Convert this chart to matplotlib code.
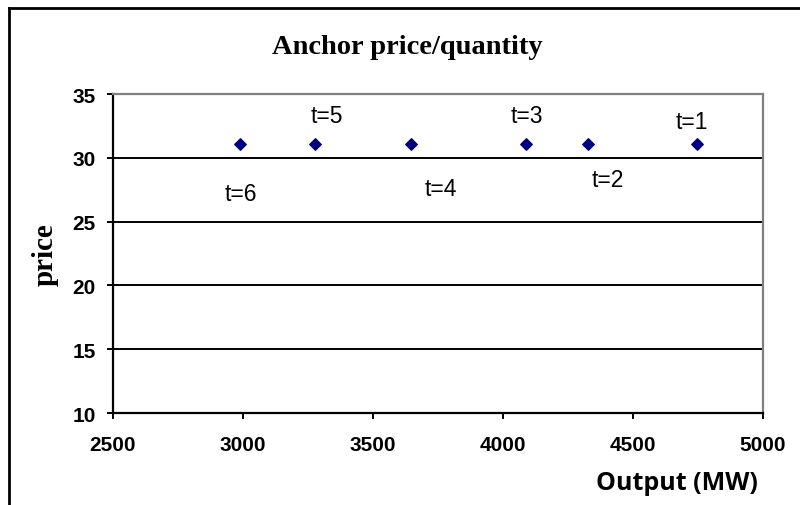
import matplotlib.pyplot as plt

# dados
saida_mw = [4745, 4325, 4090, 3645, 3275, 2990]
preco = [31.1, 31.1, 31.1, 31.1, 31.1, 31.1]
rotulos = ["t=1", "t=2", "t=3", "t=4", "t=5", "t=6"]
# deslocamento dos rotulos em pixels (dx, dy)
desloc = [(-5, 22), (20, -36), (0, 28), (30, -45), (12, 28), (0, -50)]

fig = plt.figure(figsize=(8, 5.06), dpi=100)
ax = fig.add_axes([113/800, 1 - 414/506, 650/800, 319/506])

ax.scatter(saida_mw, preco, marker="D", s=34, color="#000080", zorder=3)

for x, y, txt, (dx, dy) in zip(saida_mw, preco, rotulos, desloc):
    ax.annotate(txt, (x, y), xytext=(dx * 0.72, dy * 0.72), textcoords="offset points",
                ha="center", va="center", fontsize=16.5, family="Liberation Sans")

ax.set_xlim(2500, 5000)
ax.set_ylim(10, 35)
ax.set_xticks([2500, 3000, 3500, 4000, 4500, 5000])
ax.set_yticks([10, 15, 20, 25, 30, 35])
for v in [15, 20, 25, 30]:
    ax.axhline(v, color="black", lw=1.4, zorder=1)

for lado in ["top", "right"]:
    ax.spines[lado].set_color("#808080")
    ax.spines[lado].set_linewidth(1.6)
for lado in ["left", "bottom"]:
    ax.spines[lado].set_color("black")
    ax.spines[lado].set_linewidth(1.6)

ax.tick_params(direction="out", length=4.5, width=1.4)
ax.tick_params(axis="y", pad=8)
ax.tick_params(axis="x", pad=11)
for lbl in ax.get_xticklabels() + ax.get_yticklabels():
    lbl.set_family("Liberation Sans")
    lbl.set_fontweight("bold")
    lbl.set_fontsize(15)

fig.text(407/800, 1 - 47/506, "Anchor price/quantity", ha="center", va="center",
         family="Liberation Serif", fontweight="bold", fontsize=20.5)
fig.text(45/800, 1 - 255/506, "price", ha="center", va="center", rotation=90,
         family="Liberation Serif", fontweight="bold", fontsize=21)
fig.text(677/800, 1 - 484/506, "Output (MW)", ha="center", va="center",
         family="Open Sans", fontweight="bold", fontsize=18)

# moldura da figura (topo e lado esquerdo)
fig.add_artist(plt.Line2D([9/800, 9/800], [0, 1 - 9/506], transform=fig.transFigure,
                          color="black", lw=2))
fig.add_artist(plt.Line2D([9/800, 1], [1 - 9/506, 1 - 9/506], transform=fig.transFigure,
                          color="black", lw=2))

fig.savefig("out.png", dpi=100)
